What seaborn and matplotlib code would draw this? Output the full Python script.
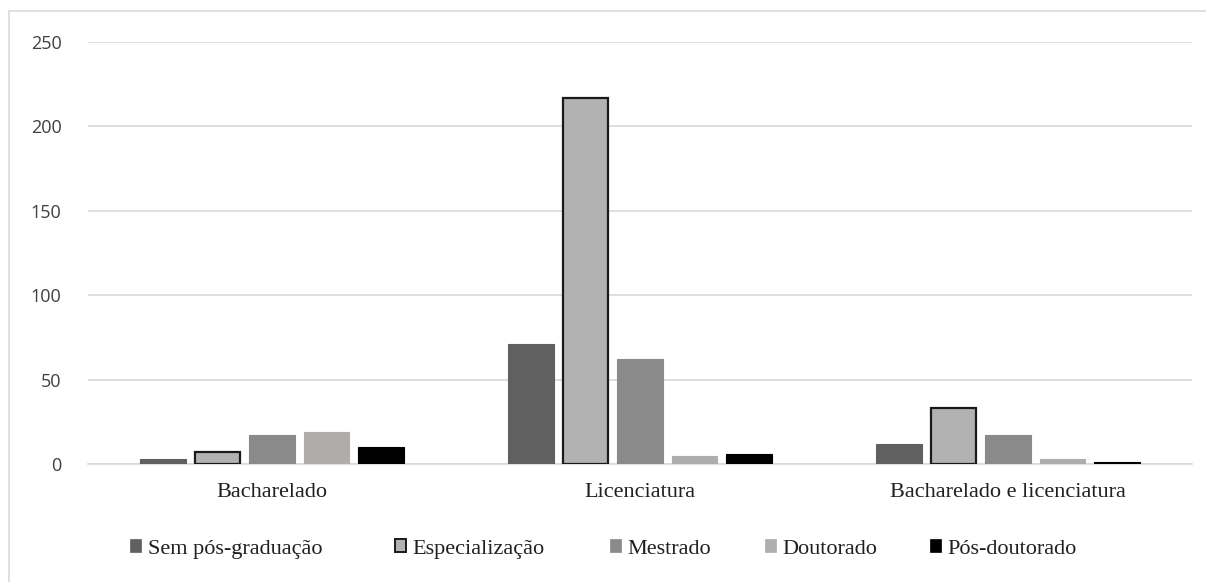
import pandas as pd
import matplotlib.pyplot as plt
import seaborn as sns
from matplotlib.lines import Line2D
from matplotlib.patches import Patch

# Dados
categorias = ['Bacharelado', 'Licenciatura', 'Bacharelado e licenciatura']
series = ['Sem pós-graduação', 'Especialização', 'Mestrado', 'Doutorado', 'Pós-doutorado']
sem_pos = [3, 71, 12]
especializacao = [7, 217, 33]
mestrado = [17, 62, 17]
doutorado = [19, 5, 3]
pos_doutorado = [10, 6, 1]
yticks = [0, 50, 100, 150, 200, 250]

cores = ['#606060', '#b2b2b2', '#8a8a8a', '#b0adab', '#000000']
bordas = ['#606060', '#1a1a1a', '#8a8a8a', '#b0adab', '#000000']

valores = [sem_pos, especializacao, mestrado, doutorado, pos_doutorado]
linhas = []
for nome, vals in zip(series, valores):
    for cat, v in zip(categorias, vals):
        linhas.append({'categoria': cat, 'serie': nome, 'valor': v})
df = pd.DataFrame(linhas)

sns.set_theme(style="white")
plt.rcParams['font.family'] = ['Liberation Serif', 'DejaVu Serif']

W, H = 1206, 582
fig = plt.figure(figsize=(W / 100, H / 100), dpi=100)
ax = fig.add_axes([88 / W, 1 - 464 / H, (1192 - 88) / W, (464 - 42) / H])

sns.barplot(data=df, x='categoria', y='valor', hue='serie', order=categorias,
            hue_order=series, palette=cores, width=0.74, gap=0.17,
            legend=False, ax=ax, zorder=3)

for i, cont in enumerate(ax.containers):
    for bar in cont:
        bar.set_edgecolor(bordas[i])
        bar.set_linewidth(1.6 if i == 1 else 0.8)

ax.set_ylim(0, 250)
ax.set_yticks(yticks)
ax.set_yticklabels([str(t) for t in yticks], family=['Open Sans', 'DejaVu Sans'],
                   fontsize=13, color='#404040')
ax.yaxis.grid(True, color='#d9d9d9', linewidth=1.2, zorder=0)
ax.set_axisbelow(True)
for s in ['top', 'right', 'left']:
    ax.spines[s].set_visible(False)
ax.spines['bottom'].set_color('#d9d9d9')
ax.spines['bottom'].set_linewidth(1.2)
ax.tick_params(axis='x', length=0, pad=14)
ax.tick_params(axis='y', length=0, pad=19)
ax.set_xlabel('')
ax.set_ylabel('')
for lab in ax.get_xticklabels():
    lab.set_fontsize(16)
    lab.set_color('#202020')

# legenda: um item por posição, como no original
leg_x = [130, 395, 610, 765, 930]
for i, (nome, c, b, x) in enumerate(zip(series, cores, bordas, leg_x)):
    h = Patch(facecolor=c, edgecolor=b, linewidth=1.4 if i == 1 else 0.5)
    fig.legend([h], [nome], loc='center left', bbox_to_anchor=(x / W, 1 - 549 / H),
               frameon=False, fontsize=16, handlelength=0.5, handleheight=0.5,
               handletextpad=0.3, borderpad=0, borderaxespad=0,
               labelcolor='#202020')

# moldura da figura (só esquerda e topo visíveis)
fig.add_artist(Line2D([9 / W, 9 / W], [0, 1 - 11 / H], transform=fig.transFigure,
                      color='#d9d9d9', linewidth=1.2))
fig.add_artist(Line2D([9 / W, 1], [1 - 11 / H, 1 - 11 / H], transform=fig.transFigure,
                      color='#d9d9d9', linewidth=1.2))

fig.savefig('out.png', dpi=100)
